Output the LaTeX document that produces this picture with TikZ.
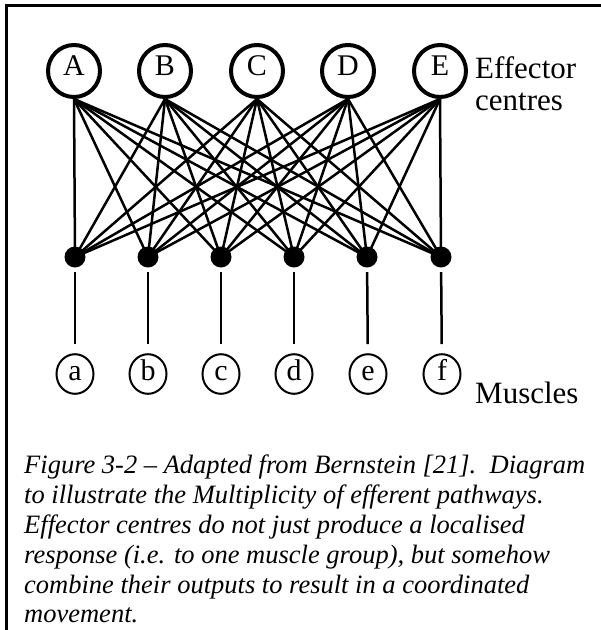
\documentclass[tikz,border=0pt]{standalone}
\usepackage{fontspec}
\setmainfont{Liberation Serif}
\usetikzlibrary{shapes.geometric}
\begin{document}
\begin{tikzpicture}[x=1pt,y=-1pt,
  topc/.style={circle,draw,line width=4pt,minimum size=52pt,inner sep=0pt,
    text height=20pt,text depth=11pt,font=\fontsize{30}{30}\selectfont},
  dotn/.style={circle,fill,inner sep=0pt,minimum size=21pt},
  musc/.style={ellipse,draw,line width=2pt,minimum width=37pt,minimum height=34pt,inner sep=0pt,
    text height=20pt,text depth=8pt,font=\fontsize{30}{30}\selectfont},
  link/.style={line width=2.5pt},
  stem/.style={line width=2.5pt,shorten <=4.5pt,shorten >=9pt},
  frameline/.style={line width=3pt},
  lbl/.style={anchor=base west,inner sep=0pt,font=\fontsize{31}{31}\selectfont},
  captext/.style={anchor=base west,inner sep=0pt,font=\fontsize{26.5}{30}\selectfont\itshape}]
\useasboundingbox (0,0) rectangle (601,630);
% frame
\coordinate (fr1) at (601,5.5);
\coordinate (fr2) at (6.5,5.5);
\coordinate (fr3) at (6.5,630);
\draw[frameline] (fr1) -- (fr2) -- (fr3);
% effector centres
\foreach \n/\x in {A/74,B/165,C/257,D/348,E/440}
  \node[topc] (T\n) at (\x,71) {\n};
% junction dot positions
\foreach \i/\x in {1/75,2/148,3/221,4/294,5/367,6/441}
  \coordinate (P\i) at (\x,257);
% pathways
\foreach \n in {A,B,C,D,E}
  \foreach \i in {1,...,6}
    \draw[link] (T\n.south) -- (P\i);
% dots
\foreach \i in {1,...,6}
  \node[dotn] (D\i) at (P\i) {};
% muscles
\foreach \i/\m/\x in {1/a/75,2/b/148,3/c/221,4/d/294,5/e/368,6/f/442}
  \node[musc] (M\i) at (\x,374) {\m};
\foreach \i in {1,...,6}
  \draw[stem] (D\i) -- (M\i);
% labels
\node[lbl] (eff1) at (475,78) {Effector};
\node[lbl] (eff2) at (475,110) {centres};
\node[lbl] (mus) at (475,403) {Muscles};
% caption
\node[captext] (c1) at (24,473) {Figure 3-2 -- Adapted from Bernstein [21].\ \ Diagram};
\node[captext] (c2) at (24,503) {to illustrate the Multiplicity of efferent pathways.};
\node[captext] (c3) at (24,533) {Effector centres do not just produce a localised};
\node[captext] (c4) at (24,563) {response (i.e. to one muscle group), but somehow};
\node[captext] (c5) at (24,593) {combine their outputs to result in a coordinated};
\node[captext] (c6) at (24,622) {movement.};
\end{tikzpicture}
\end{document}
